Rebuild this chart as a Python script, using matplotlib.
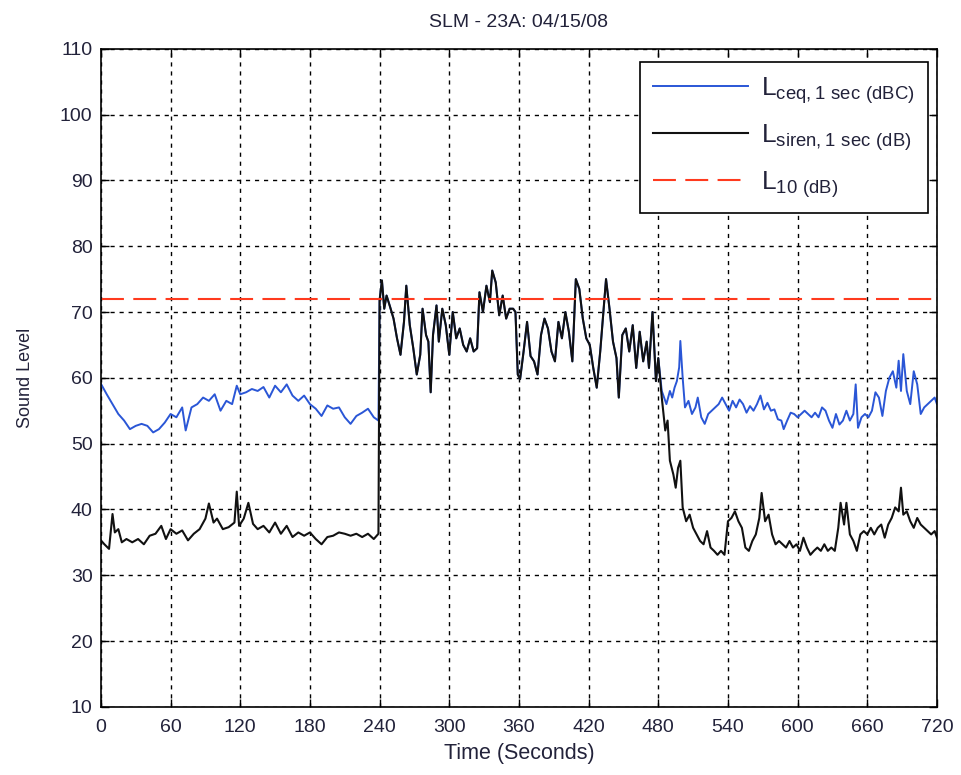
import matplotlib
matplotlib.use("Agg")
import matplotlib.pyplot as plt
import numpy as np

plt.rcParams['font.family'] = ['Liberation Sans', 'DejaVu Sans']
plt.rcParams['mathtext.fontset'] = 'custom'
plt.rcParams['mathtext.rm'] = 'Liberation Sans'

# Lceq before the siren (0-240 s)
ceq_t1 = [0, 5, 10, 15, 20, 25, 30, 35, 40, 45, 50, 55, 60, 65, 70, 73, 78, 83, 88, 93,
          98, 103, 108, 113, 117, 120, 125, 130, 135, 140, 145, 150, 155, 160, 165, 170,
          175, 180, 185, 190, 195, 200, 205, 210, 215, 220, 225, 230, 235, 239]
ceq_v1 = [59.1, 57.5, 56, 54.5, 53.5, 52.2, 52.7, 53, 52.7, 51.7, 52.2, 53.2, 54.5, 54,
          55.5, 52, 55.5, 56, 57, 56.5, 57.5, 55, 56.5, 56, 58.8, 57.5, 57.8, 58.3, 58,
          58.6, 57, 58.8, 57.8, 59, 57.3, 56.5, 57.3, 56, 55.3, 54.2, 55.8, 55.3, 55.5,
          54, 53, 54.2, 54.7, 55.3, 54, 53.5]

# Lsiren before the siren (0-240 s)
siren_t1 = [0, 3, 7, 10, 12, 15, 18, 22, 27, 32, 37, 42, 47, 52, 56, 60, 65, 70, 75, 80,
            85, 90, 93, 97, 100, 105, 110, 115, 117, 119, 123, 127, 131, 135, 140, 145,
            150, 155, 160, 165, 170, 175, 180, 185, 190, 195, 200, 205, 210, 215, 220,
            225, 230, 235, 239]
siren_v1 = [35.3, 34.7, 34, 39.3, 36.5, 37, 35, 35.5, 35, 35.5, 34.7, 36, 36.3, 37.5,
            35.5, 37, 36.3, 36.8, 35.3, 36.3, 37, 38.6, 40.9, 38, 38.6, 37, 37.3, 38,
            42.7, 37.5, 38.6, 41, 37.8, 37, 37.5, 36.5, 38, 36.3, 37.5, 35.8, 36.5, 36,
            36.5, 35.5, 34.7, 35.8, 36, 36.5, 36.3, 36, 36.3, 35.8, 36.3, 35.5, 36.3]

# siren active (240-480 s): both curves overlap
mid_t = [240, 242, 244, 246, 249, 252, 255, 258, 261, 263, 266, 269, 272, 275, 277, 280,
         282, 284, 286, 289, 291, 294, 297, 300, 303, 306, 309, 312, 315, 318, 321, 324,
         326, 329, 332, 335, 337, 340, 343, 346, 349, 352, 355, 357, 359, 361, 364, 367,
         370, 373, 376, 379, 382, 385, 388, 391, 394, 397, 400, 403, 406, 409, 412, 415,
         418, 421, 424, 427, 430, 433, 435, 438, 441, 444, 446, 449, 452, 455, 458, 461,
         464, 467, 470, 472, 475, 478, 480]
mid_v = [71.8, 74.8, 70.5, 72.5, 70.8, 69, 66, 63.5, 68.5, 74, 68, 64.5, 60.5, 63.5,
         70.5, 66.5, 65.5, 57.8, 66.5, 71, 65.5, 70.5, 68, 63.5, 70, 66, 67.5, 65, 64, 66,
         64, 64.5, 73, 70, 74, 71.5, 76.3, 74.5, 69.5, 72.5, 69, 70.5, 70.5, 70, 60.5,
         59.8, 64, 68.5, 63.3, 62.5, 60.5, 66.5, 69, 67.5, 64, 62.5, 68.5, 66, 70, 67,
         62.5, 75, 73.5, 69, 66, 65, 61.5, 58.5, 64, 70.5, 75, 70.5, 65.5, 63, 57, 66.5,
         67.5, 64, 68, 61.5, 67, 62.5, 65.5, 61.5, 70, 59.5, 63]

# after the siren (480-720 s)
ceq_t3 = [483, 485, 487, 490, 492, 494, 496, 498, 499, 501, 503, 506, 509, 512, 514, 517,
          520, 523, 526, 529, 532, 535, 538, 541, 544, 547, 550, 553, 556, 559, 562, 565,
          568, 571, 574, 577, 580, 583, 586, 588, 591, 594, 597, 600, 603, 606, 609, 612,
          615, 618, 621, 624, 627, 630, 633, 636, 639, 642, 645, 648, 650, 652, 655, 658,
          661, 664, 667, 670, 673, 676, 679, 682, 685, 687, 689, 691, 694, 697, 700, 703,
          706, 709, 712, 715, 718, 720]
ceq_v3 = [58, 57, 56, 58, 57, 58.5, 59.5, 61.6, 65.6, 60, 55.5, 56.5, 54.5, 55.5, 57, 54,
          53, 54.5, 55, 55.5, 56, 57, 56, 55, 56.5, 55.5, 56.7, 56, 54.7, 55.7, 55, 56,
          57.3, 55.2, 56.2, 55, 55.2, 53.7, 53.5, 52.2, 53.5, 54.7, 54.5, 54, 54.5, 55,
          54.5, 54, 54.7, 54, 55.5, 55, 53.5, 52.4, 54.5, 52.9, 53.5, 55, 53.5, 54.5, 59,
          52.4, 54, 54.5, 54, 55, 57.8, 57, 54.2, 58, 60, 61, 58.5, 62.6, 58, 63.6, 58,
          56, 61, 59, 54.5, 55.5, 56, 56.5, 57, 56]
siren_t3 = [483, 486, 488, 490, 493, 495, 497, 499, 501, 504, 507, 510, 513, 516, 519,
            522, 525, 528, 531, 534, 537, 540, 543, 546, 549, 552, 555, 558, 561, 564,
            567, 569, 572, 575, 578, 581, 584, 587, 590, 593, 596, 599, 602, 605, 608,
            611, 614, 617, 620, 623, 626, 629, 632, 635, 637, 640, 642, 645, 648, 651,
            654, 657, 660, 663, 666, 669, 672, 675, 678, 681, 684, 687, 689, 691, 694,
            697, 700, 703, 706, 709, 712, 715, 718, 720]
siren_v3 = [57, 52, 53.5, 47.4, 45.3, 43.3, 46.3, 47.4, 40.3, 38.2, 39.2, 37.2, 36.2,
            35.2, 34.7, 36.7, 34.2, 33.7, 33.1, 33.7, 33.1, 38.2, 38.7, 39.7, 38.2, 37.2,
            34.2, 33.7, 35.2, 36.2, 38.7, 42.5, 38.2, 39.2, 36.2, 34.7, 35.2, 34.7, 34.2,
            35.2, 34.2, 34.7, 33.7, 35.7, 34.2, 33.1, 33.7, 34.2, 33.7, 34.7, 33.7, 34.2,
            33.7, 37.2, 41, 37.7, 41, 36.2, 35.2, 33.7, 36.2, 36.7, 36.2, 37.2, 36.2, 37.2,
            37.7, 35.7, 37.7, 38.7, 40.3, 39.7, 43.3, 39.2, 39.7, 38.2, 37.2, 38.7, 37.7,
            37.2, 36.7, 36.2, 36.7, 35.7]

l10 = 72
xticks = list(range(0, 721, 60))
yticks = list(range(10, 111, 10))

ceq_t = ceq_t1 + mid_t + ceq_t3
ceq_v = ceq_v1 + mid_v + ceq_v3
siren_t = siren_t1 + mid_t + siren_t3
siren_v = siren_v1 + mid_v + siren_v3

txt = '#22223a'

fig = plt.figure(figsize=(9.61, 7.75), dpi=100)
ax = fig.add_axes([0.105, 0.088, 0.870, 0.849])

ax.plot(ceq_t, ceq_v, color='#2a56d6', lw=1.4,
        label=r'L$_{\mathregular{ceq,1\ sec\ (dBC)}}$')
ax.plot(siren_t, siren_v, color='#111111', lw=1.5,
        label=r'L$_{\mathregular{siren,1\ sec\ (dB)}}$')
ax.axhline(l10, color='#ff3a1e', lw=1.5, dashes=(11, 4.5),
           label=r'L$_{\mathregular{10\ (dB)}}$')

ax.set_xlim(0, 720)
ax.set_ylim(10, 110)
ax.set_xticks(xticks)
ax.set_yticks(yticks)
ax.grid(True, color='black', linestyle=(0, (3, 3.5)), lw=1.0)
ax.tick_params(direction='in', top=True, right=True, length=6, width=1,
               labelsize=14, colors='black', labelcolor=txt)
ax.tick_params(axis='x', pad=9)
ax.tick_params(axis='y', pad=6)
for s in ax.spines.values():
    s.set_linewidth(1.2)

ax.set_xlabel('Time (Seconds)', fontsize=15.5, color=txt, labelpad=5)
ax.set_ylabel('Sound Level', fontsize=13, color=txt, labelpad=19)
ax.set_title('SLM - 23A: 04/15/08', fontsize=14, color=txt, pad=16)

leg = ax.legend(loc='upper right', bbox_to_anchor=(0.989, 0.980), borderaxespad=0,
                fontsize=19, handlelength=3.6, handletextpad=0.5, labelspacing=0.6,
                fancybox=False, framealpha=1, edgecolor='black', borderpad=0.5)
leg.get_frame().set_linewidth(1.2)
for t in leg.get_texts():
    t.set_color(txt)

fig.savefig('out.png', dpi=100)
